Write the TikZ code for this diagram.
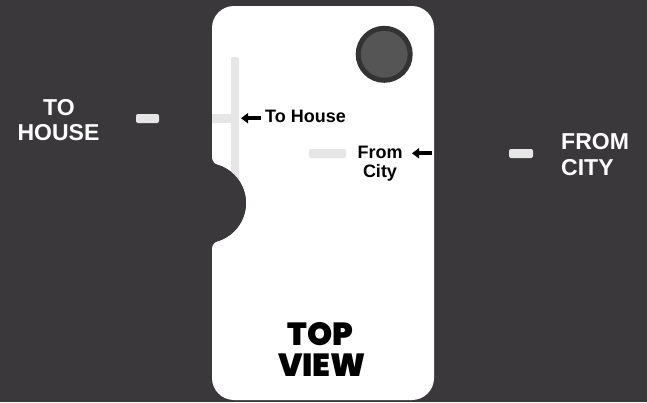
\documentclass[tikz,border=0pt]{standalone}
\usepackage{fontspec}
\setmainfont{Liberation Sans}
\newfontfamily\heavy{Poppins Black}
\usetikzlibrary{arrows.meta}
\definecolor{bg}{HTML}{3A383A}
\definecolor{barc}{HTML}{E6E6E6}
\definecolor{knob}{HTML}{555555}
\definecolor{knobedge}{HTML}{333333}
\begin{document}
\begin{tikzpicture}[x=1pt,y=-1pt,
  lbl/.style={font=\fontsize{23}{26}\selectfont\bfseries, text=white, inner sep=0pt, anchor=base},
  small/.style={font=\fontsize{18}{19}\selectfont\bfseries, text=black, inner sep=0pt, anchor=base},
  big/.style={font=\heavy\fontsize{32}{31}\selectfont, text=black, inner sep=0pt, anchor=base},
  arr/.style={line width=4pt, -{Triangle[length=7pt,width=10pt]}},
  graybar/.style={fill=barc, rounded corners=2pt}]
\fill[bg] (0,0) rectangle (647,402);
\useasboundingbox (0,0) rectangle (647,402);
% card
\fill[white] (234,6) -- (412,6) arc[start angle=-90,end angle=0,radius=22]
  -- (434,378) arc[start angle=0,end angle=90,radius=22]
  -- (234,400) arc[start angle=90,end angle=180,radius=22]
  -- (212,248.9) arc[start angle=180,end angle=253.1,radius=8]
  arc[start angle=73,end angle=-73,radius=40]
  arc[start angle=106.9,end angle=180,radius=8]
  -- (212,28) arc[start angle=180,end angle=270,radius=22] -- cycle;
% knob
\draw[knobedge, fill=knob, line width=5pt] (384.2,54.3) circle[radius=26];
% gray bars
\fill[graybar] (231,57) rectangle (239,200);
\fill[barc] (212,114) rectangle (231,122.7);
\fill[bg] (206,203) circle[radius=40];
\fill[graybar] (309,149) rectangle (346,158);
\fill[graybar] (136,114) rectangle (159,123);
\fill[graybar] (509,149) rectangle (533,158);
% outside labels
\node[lbl] (to) at (59,115.5) {TO};
\node[lbl] (house) at (58.5,140.5) {HOUSE};
\node[lbl, anchor=base west] (from) at (561,149) {FROM};
\node[lbl, anchor=base west] (city) at (561,175) {CITY};
% inside labels
\node[small, anchor=base west] (tohouse) at (265,122.7) {To House};
\node[small] (fromtxt) at (380,158) {From};
\node[small] (citytxt) at (380,177.5) {City};
\coordinate (a1s) at (261,118.2);
\coordinate (a1e) at (241,118.2);
\draw[arr] (a1s) -- (a1e);
\coordinate (a2s) at (432,153.3);
\coordinate (a2e) at (412,153.3);
\draw[arr] (a2s) -- (a2e);
% top view
\node[big] (top) at (320.5,345) {TOP};
\node[big] (view) at (322,376) {VIEW};
\end{tikzpicture}
\end{document}
